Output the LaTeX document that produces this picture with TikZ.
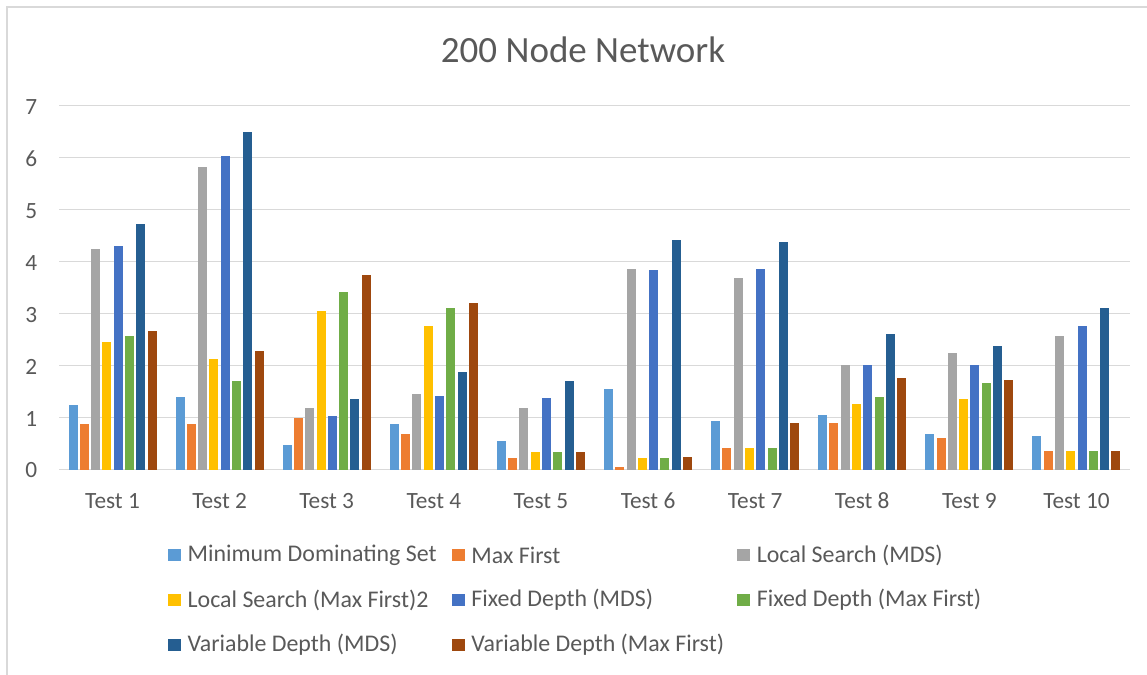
\documentclass[tikz,border=0pt]{standalone}
\usepackage{fontspec}
\setmainfont{Carlito}
\usepackage{tikz}
\usetikzlibrary{positioning}

\definecolor{c0}{HTML}{5B9BD5}
\definecolor{c1}{HTML}{ED7D31}
\definecolor{c2}{HTML}{A5A5A5}
\definecolor{c3}{HTML}{FFC000}
\definecolor{c4}{HTML}{4472C4}
\definecolor{c5}{HTML}{70AD47}
\definecolor{c6}{HTML}{255E91}
\definecolor{c7}{HTML}{9E480E}
\definecolor{txtgray}{HTML}{595959}
\definecolor{gridgray}{HTML}{D9D9D9}

\def\yzero{469.5}
\def\yunit{51.95}

\begin{document}
\begin{tikzpicture}[x=1bp,y=-1bp,
	gridline/.style={draw=gridgray,line width=1.3bp},
	ticklbl/.style={inner sep=0pt,text=txtgray,font=\fontsize{23.3bp}{28bp}\selectfont},
	legsq/.style={minimum size=12.5bp,inner sep=0pt},
	legtxt/.style={inner sep=0pt,text=txtgray,font=\fontsize{23.9bp}{28bp}\selectfont}]
	\useasboundingbox (0,0) rectangle (1147,675);
	\draw [gridline] (7,675) -- (7,7) -- (1147,7);

	% title
	\node (title) at (583,50) [text=txtgray,font=\fontsize{37bp}{44bp}\selectfont] {200 Node Network};

	% grid and value axis
	\foreach \k in {0,...,7} {
		\draw [gridline] (59,{\yzero-\k*\yunit}) -- (1130,{\yzero-\k*\yunit});
		\node (y\k) at (37.5,{\yzero-\k*\yunit+1}) [ticklbl,anchor=east] {\k};
	}

	% bars
	\foreach \g/\vals in {
		1/{1.24,0.87,4.24,2.46,4.30,2.57,4.72,2.66},
		2/{1.39,0.87,5.82,2.12,6.03,1.70,6.50,2.29},
		3/{0.47,0.99,1.19,3.06,1.03,3.42,1.35,3.75},
		4/{0.87,0.68,1.45,2.77,1.41,3.11,1.87,3.20},
		5/{0.54,0.22,1.18,0.34,1.37,0.34,1.71,0.34},
		6/{1.54,0.04,3.85,0.22,3.84,0.22,4.41,0.25},
		7/{0.94,0.42,3.68,0.42,3.86,0.42,4.37,0.89},
		8/{1.04,0.90,2.01,1.26,2.02,1.39,2.60,1.76},
		9/{0.68,0.60,2.25,1.35,2.02,1.66,2.37,1.72},
		10/{0.64,0.36,2.57,0.36,2.76,0.36,3.10,0.36}} {
		\foreach \v [count=\j from 0] in \vals
			\fill [c\j] ({59+107.1*(\g-1)+9.5+11.29*\j},\yzero) rectangle ++(9,{-\v*\yunit});
		\node (t\g) at ({59+107.1*(\g-0.5)},501) [ticklbl] {Test \g};
	}

	% legend
	\node (l0) at (174.5,555) [legsq,fill=c0] {};
	\node (l1) at (458.3,555) [legsq,fill=c1] {};
	\node (l2) at (743.7,555) [legsq,fill=c2] {};
	\node (l3) at (174.5,600) [legsq,fill=c3] {};
	\node (l4) at (458.3,600) [legsq,fill=c4] {};
	\node (l5) at (743.7,600) [legsq,fill=c5] {};
	\node (l6) at (174.5,645) [legsq,fill=c6] {};
	\node (l7) at (458.3,645) [legsq,fill=c7] {};

	\node (n0) [legtxt,right=6.5bp of l0] {Minimum Dominating Set};
	\node (n1) [legtxt,right=6.5bp of l1] {Max First};
	\node (n2) [legtxt,right=6.5bp of l2] {Local Search (MDS)};
	\node (n3) [legtxt,right=6.5bp of l3] {Local Search (Max First)2};
	\node (n4) [legtxt,right=6.5bp of l4] {Fixed Depth (MDS)};
	\node (n5) [legtxt,right=6.5bp of l5] {Fixed Depth (Max First)};
	\node (n6) [legtxt,right=6.5bp of l6] {Variable Depth (MDS)};
	\node (n7) [legtxt,right=6.5bp of l7] {Variable Depth (Max First)};
\end{tikzpicture}
\end{document}
